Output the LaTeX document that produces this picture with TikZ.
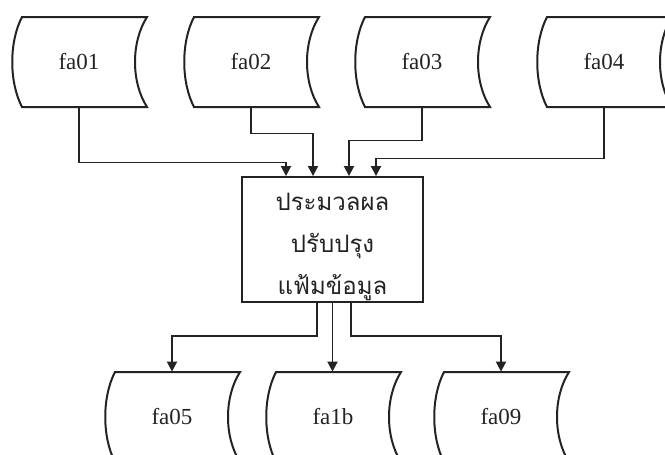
\documentclass[tikz,border=0pt]{standalone}
\usepackage{fontspec}
\setmainfont{Liberation Serif}
\newfontfamily\thaifont[Script=Thai]{Loma}
\usepackage{tikz}
\usetikzlibrary{arrows.meta, positioning, calc}
\usepackage{xcolor}
\definecolor{linegray}{RGB}{35,35,35}

\tikzset{
    filenode/.style={minimum width=62.5pt, minimum height=45pt, inner sep=0pt,
                     text=linegray, font=\fontsize{11.5}{14}\selectfont},
    procbox/.style={draw=linegray, line width=0.95pt, minimum width=90.5pt,
                    minimum height=62.5pt},
    proctext/.style={align=center, text=linegray, inner sep=0pt,
                     font=\thaifont\fontsize{12}{21}\selectfont},
    fileline/.style={draw=linegray, line width=1pt},
    flow/.style={draw=linegray, line width=0.9pt,
                 -{Triangle[length=5pt, width=5pt]}}
}

\begin{document}
\begin{tikzpicture}[x=0.5pt, y=-0.5pt]
    \useasboundingbox (0,0) rectangle (665,455);
    \clip (0,0) rectangle (665,455);

    \node[filenode] (fa01) at (79,62) {fa01};
    \node[filenode] (fa02) at (251,62) {fa02};
    \node[filenode] (fa03) at (422,62) {fa03};
    \node[filenode] (fa04) at (604,62) {fa04};

    \node[procbox] (proc) at (332.5,239.5) {};
    \node[proctext] (proctext) at ([yshift=-3.5pt]proc.center)
        {ประมวลผล\\ปรับปรุง\\แฟ้มข้อมูล};

    \node[filenode] (fa05) at (172,417) {fa05};
    \node[filenode] (fa1b) at (333,417) {fa1b};
    \node[filenode] (fa09) at (501,417) {fa09};

    \foreach \f in {fa01,fa02,fa03,fa04,fa05,fa1b,fa09}
        \draw[fileline] (\f.center) ++(-57,-45) -- ++(125,0)
            .. controls +(-16,25) and +(-16,-25) .. ++(0,90) -- ++(-125,0)
            .. controls +(-13,-25) and +(-13,25) .. ++(0,-90) -- cycle;

    \draw[flow] (fa01.south) -- ++(0,55) -| ([xshift=-23.25pt]proc.north);
    \draw[flow] (fa02.south) -- ++(0,26) -| ([xshift=-9.75pt]proc.north);
    \draw[flow] (fa03.south) -- ++(0,33) -| ([xshift=8.25pt]proc.north);
    \draw[flow] (fa04.south) -- ++(0,51) -| ([xshift=21.75pt]proc.north);

    \draw[flow] ([xshift=-7.75pt]proc.south) -- ++(0,33) -| (fa05.north);
    \draw[flow] (proc.south) -- (proc.south |- fa1b.north);
    \draw[flow] ([xshift=9.25pt]proc.south) -- ++(0,33) -| (fa09.north);
\end{tikzpicture}
\end{document}
